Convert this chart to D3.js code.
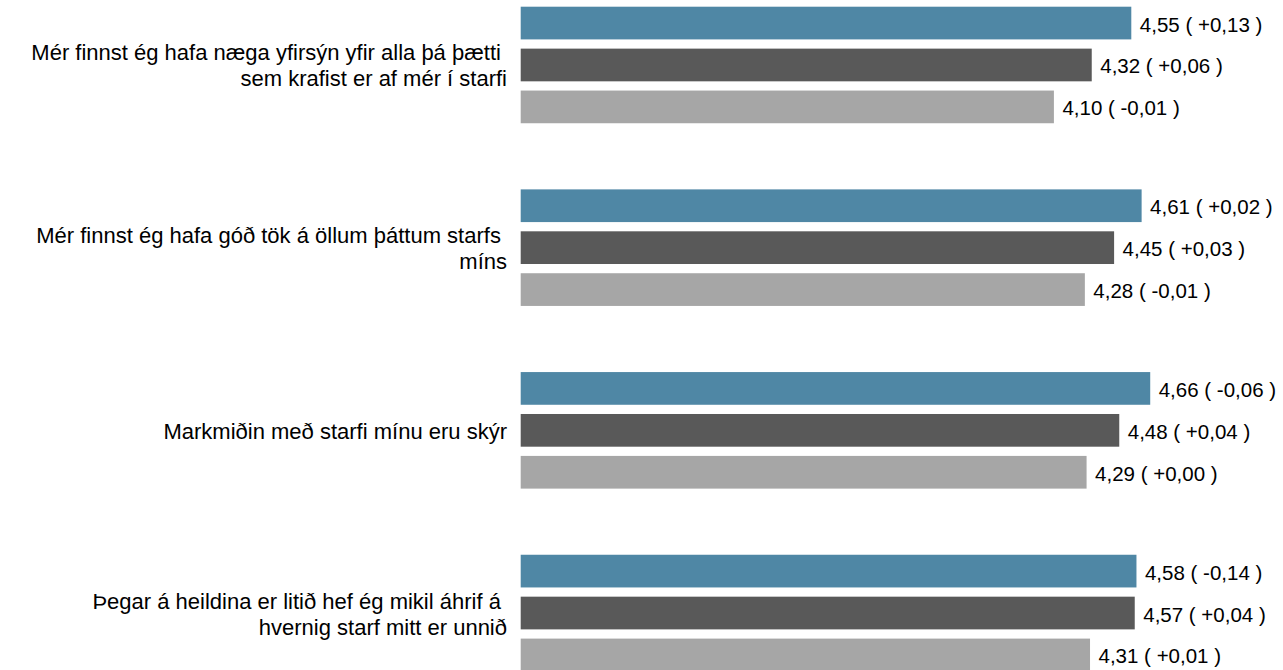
<!DOCTYPE html>
<html>
<head>
<meta charset="utf-8">
<script src="https://cdn.jsdelivr.net/npm/d3@7"></script>
<style>
  html, body { margin: 0; padding: 0; background: #ffffff; }
  svg { display: block; }
  text { font-family: "Liberation Sans", Arial, sans-serif; fill: #000; }
</style>
</head>
<body>
<svg id="chart" width="1283" height="670"></svg>
<script>
const categories = [
  ["Mér finnst ég hafa næga yfirsýn yfir alla þá þætti ", "sem krafist er af mér í starfi"],
  ["Mér finnst ég hafa góð tök á öllum þáttum starfs ", "míns"],
  ["Markmiðin með starfi mínu eru skýr"],
  ["Þegar á heildina er litið hef ég mikil áhrif á ", "hvernig starf mitt er unnið"]
];
const seriesNames = ["s1", "s2", "s3"];
const values1 = [4.55, 4.61, 4.66, 4.58];
const values2 = [4.32, 4.45, 4.48, 4.57];
const values3 = [4.10, 4.28, 4.29, 4.31];
const change1 = [0.13, 0.02, -0.06, -0.14];
const change2 = [0.06, 0.03, 0.04, 0.04];
const change3 = [-0.01, -0.01, 0.00, 0.01];
const colors = ["#4f87a5", "#595959", "#a6a6a6"];
const xDomain = [1, 5];

const values = [values1, values2, values3];
const changes = [change1, change2, change3];

const svg = d3.select("#chart");
const x = d3.scaleLinear().domain(xDomain).range([520.7, 1208.7]);
const y0 = d3.scaleBand().domain(d3.range(categories.length)).range([6.7, 671.3]).paddingInner(0.362).paddingOuter(0);
const y1 = d3.scaleBand().domain(seriesNames).range([0, y0.bandwidth()]).paddingInner(0.22).paddingOuter(0);

const fmt = v => d3.format(".2f")(v).replace(".", ",");
const fmtD = v => (v < 0 ? "-" : "+") + d3.format(".2f")(Math.abs(v)).replace(".", ",");

const groups = svg.selectAll("g.grp").data(categories).join("g")
  .attr("class", "grp")
  .attr("transform", (d, i) => `translate(0,${y0(i)})`);

groups.each(function(cat, i) {
  const g = d3.select(this);
  seriesNames.forEach((s, k) => {
    const v = values[k][i];
    g.append("rect")
      .attr("x", x(xDomain[0]))
      .attr("y", y1(s))
      .attr("width", x(v) - x(xDomain[0]))
      .attr("height", y1.bandwidth())
      .attr("fill", colors[k]);
    g.append("text")
      .attr("x", x(v) + 8.5)
      .attr("y", y1(s) + y1.bandwidth() / 2 + 8.5)
      .attr("font-size", 20.5)
      .style("white-space", "pre")
      .text(`${fmt(v)} ( ${fmtD(changes[k][i])} )`);
  });
  const cy = y0.bandwidth() / 2;
  const lh = 26;
  const t = g.append("text")
    .attr("text-anchor", "end")
    .attr("font-size", 22)
    .style("white-space", "pre");
  cat.forEach((line, j) => {
    t.append("tspan")
      .attr("x", 507)
      .attr("y", cy + 8.5 - (cat.length - 1) * lh / 2 + j * lh)
      .text(line);
  });
});
</script>
</body>
</html>
